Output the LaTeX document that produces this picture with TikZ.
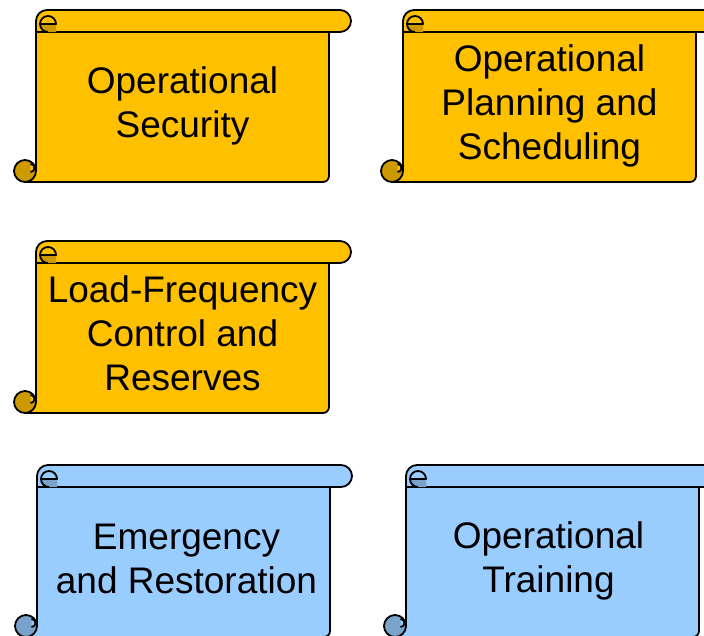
\documentclass[tikz,border=0pt]{standalone}
\usepackage{fontspec}
\setmainfont{Liberation Sans}

\definecolor{gold}{RGB}{255,192,0}
\definecolor{golddark}{RGB}{204,154,0}
\definecolor{sky}{RGB}{153,204,255}
\definecolor{skydark}{RGB}{122,163,204}

\tikzset{
  rim/.style={draw=black, line width=1.8pt, line join=round},
  scrolltext/.style={align=center, inner sep=0pt,
    font=\fontsize{37}{44}\selectfont}
}

% scroll: [text shift], name, left, top, colour, text
\newcommand{\drawscroll}[6][]{%
  \begin{scope}[shift={(#3,-#4)}]
    \draw[rim, fill=#5] (22,-22) -- (22,-161) -- (11,-172) -- (309,-172)
      arc[start angle=270, end angle=360, radius=6] -- (315,-22);
    \draw[rim, fill=#5dark] (11,-161) circle[radius=11];
    \draw[rim, fill=#5] (16.5,-154) arc[start angle=90, end angle=-90, radius=4];
    \draw[rim, fill=#5] (22,-22) -- (22,-11) arc[start angle=180, end angle=90, radius=11]
      -- (326,0) arc[start angle=90, end angle=-90, radius=11] -- cycle;
    \fill[#5dark] (26,-14) -- (42,-14) -- (42,-22) -- (34,-22)
      arc[start angle=270, end angle=180, radius=8] -- cycle;
    \draw[rim] (26,-14) -- (42,-14) arc[start angle=0, end angle=270, radius=8];
    \node[scrolltext, #1] (#2) at (168.5,-96) {#6};
  \end{scope}}

\begin{document}
\begin{tikzpicture}[x=1pt, y=1pt]
  \useasboundingbox (0,0) rectangle (704,-635);
  \clip (0,0) rectangle (704,-635);

  \drawscroll{sec}{14}{10}{gold}{Operational\\Security}
  \drawscroll{plan}{381}{10}{gold}{Operational\\Planning and\\Scheduling}
  \drawscroll[yshift=4pt]{lfc}{14}{241}{gold}{Load-Frequency\\Control and\\Reserves}
  \drawscroll[xshift=3pt, yshift=2pt]{emer}{15}{465}{sky}{Emergency\\and Restoration}
  \drawscroll[xshift=-4pt]{train}{384}{465}{sky}{Operational\\Training}

\end{tikzpicture}
\end{document}
